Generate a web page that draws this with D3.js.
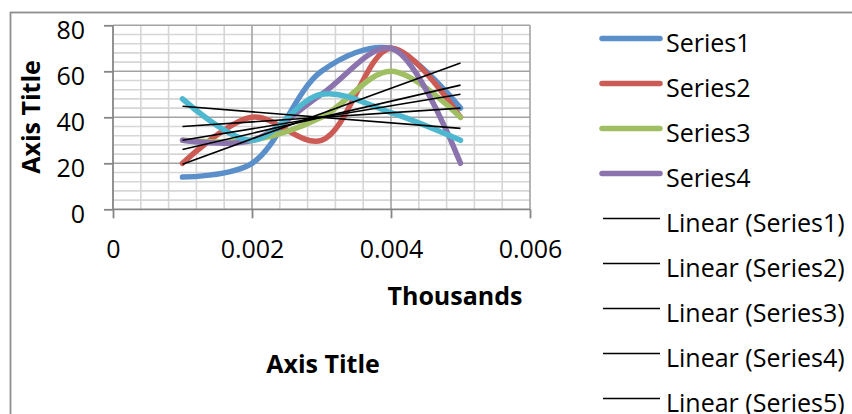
<!DOCTYPE html>
<html><head><meta charset="utf-8">
<script src="https://cdn.jsdelivr.net/npm/d3@7"></script>
<style>
html,body{margin:0;padding:0;background:#fff;}
svg text{font-family:"Open Sans","Liberation Sans",sans-serif;fill:#000;}
</style></head>
<body>
<svg id="chart" width="852" height="414"></svg>
<script>
const xValues = [0.001, 0.002, 0.003, 0.004, 0.005];
const series1 = [14, 20, 60, 70, 44];
const series2 = [20, 40, 30, 70, 40];
const series3 = [30, 30, 40, 60, 40];
const series4 = [30, 30, 50, 70, 20];
const series5 = [48, 30, 50, 42, 30];
const seriesNames = ["Series1", "Series2", "Series3", "Series4", "Series5"];
const seriesColors = ["#5A8FCA", "#CC5B55", "#A0BF62", "#8B73AE", "#4DB8CF"];
const xTicks = [0, 0.002, 0.004, 0.006];
const xTickLabels = ["0", "0.002", "0.004", "0.006"];
const yTicks = [0, 20, 40, 60, 80];
const legendLabels = ["Series1", "Series2", "Series3", "Series4",
  "Linear (Series1)", "Linear (Series2)", "Linear (Series3)", "Linear (Series4)", "Linear (Series5)"];

const allSeries = [series1, series2, series3, series4, series5];
const svg = d3.select("#chart");
const FS = 25;

const x = d3.scaleLinear().domain([0, 0.006]).range([113, 530]);
const y = d3.scaleLinear().domain([0, 80]).range([209.3, 25.3]);

// chart frame
svg.append("rect").attr("x", 10.5).attr("y", 12.5).attr("width", 900).attr("height", 500)
  .attr("fill", "none").attr("stroke", "#8e8e8e").attr("stroke-width", 1.8);

// minor gridlines
const g = svg.append("g");
d3.range(0, 80.001, 4).forEach(v => {
  if (v % 20 !== 0) g.append("line").attr("x1", x(0)).attr("x2", x(0.006)).attr("y1", y(v)).attr("y2", y(v))
    .attr("stroke", "#d6d6d6").attr("stroke-width", 1.6);
});
d3.range(0, 0.0060001, 0.0004).forEach(v => {
  const r = Math.round(v / 0.0004);
  if (r % 5 !== 0) g.append("line").attr("x1", x(v)).attr("x2", x(v)).attr("y1", y(0)).attr("y2", y(80))
    .attr("stroke", "#d6d6d6").attr("stroke-width", 1.6);
});
// major gridlines
yTicks.slice(1).forEach(v => g.append("line").attr("x1", x(0)).attr("x2", x(0.006)).attr("y1", y(v)).attr("y2", y(v))
  .attr("stroke", "#a3a3a3").attr("stroke-width", 1.6));
xTicks.slice(1).forEach(v => g.append("line").attr("x1", x(v)).attr("x2", x(v)).attr("y1", y(0)).attr("y2", y(80))
  .attr("stroke", "#a3a3a3").attr("stroke-width", 1.6));

// axes
const yAxis = svg.append("g").attr("transform", `translate(${x(0)},0)`)
  .call(d3.axisLeft(y).tickValues(yTicks).tickSize(9).tickPadding(19).tickFormat(d3.format("d")));
yAxis.selectAll("text").attr("dy", null).attr("y", 13).style("font-size", FS + "px");
const xAxis = svg.append("g").attr("transform", `translate(0,${y(0)})`)
  .call(d3.axisBottom(x).tickValues(xTicks).tickSize(9).tickFormat((d, i) => xTickLabels[i]));
xAxis.selectAll("text").attr("dy", null).attr("y", 49).style("font-size", FS + "px");
[yAxis, xAxis].forEach(a => {
  a.select(".domain").attr("stroke", "#868686").attr("stroke-width", 1.8);
  a.selectAll(".tick line").attr("stroke", "#868686").attr("stroke-width", 1.8);
});
yAxis.select(".domain").attr("d", `M0,${y(80)}V${y(0)}`);
xAxis.select(".domain").attr("d", `M${x(0)},0H${x(0.006)}`);

// series lines
const line = d3.line().x(d => x(d[0])).y(d => y(d[1])).curve(d3.curveCatmullRom.alpha(0.5));
allSeries.forEach((s, i) => {
  svg.append("path").datum(xValues.map((xv, j) => [xv, s[j]]))
    .attr("d", line).attr("fill", "none").attr("stroke", seriesColors[i])
    .attr("stroke-width", 5.5).attr("stroke-linecap", "round").attr("stroke-linejoin", "round");
});

// linear trendlines
allSeries.forEach(s => {
  const mx = d3.mean(xValues), my = d3.mean(s);
  const slope = d3.sum(xValues.map((xv, j) => (xv - mx) * (s[j] - my))) / d3.sum(xValues.map(xv => (xv - mx) ** 2));
  const f = xv => my + slope * (xv - mx);
  const x0 = d3.min(xValues), x1 = d3.max(xValues);
  svg.append("line").attr("x1", x(x0)).attr("y1", y(f(x0))).attr("x2", x(x1)).attr("y2", y(f(x1)))
    .attr("stroke", "#000").attr("stroke-width", 1.6);
});

// titles
svg.append("text").attr("x", 455).attr("y", 305).attr("text-anchor", "middle")
  .style("font-size", FS + "px").style("font-weight", "bold").text("Thousands");
svg.append("text").attr("x", 323).attr("y", 373).attr("text-anchor", "middle")
  .style("font-size", FS + "px").style("font-weight", "bold").text("Axis Title");
svg.append("text").attr("transform", "translate(40,117) rotate(-90)").attr("text-anchor", "middle")
  .style("font-size", FS + "px").style("font-weight", "bold").text("Axis Title");

// legend
const lg = svg.append("g");
legendLabels.forEach((lab, i) => {
  const ly = 38.5 + i * 45;
  if (i < 4) {
    lg.append("line").attr("x1", 602).attr("x2", 660).attr("y1", ly).attr("y2", ly)
      .attr("stroke", seriesColors[i]).attr("stroke-width", 5.5).attr("stroke-linecap", "round");
  } else {
    lg.append("line").attr("x1", 603).attr("x2", 660).attr("y1", ly).attr("y2", ly)
      .attr("stroke", "#000").attr("stroke-width", 1.6);
  }
  lg.append("text").attr("x", 666).attr("y", ly + 13).style("font-size", FS + "px").text(lab);
});
</script>
</body></html>
